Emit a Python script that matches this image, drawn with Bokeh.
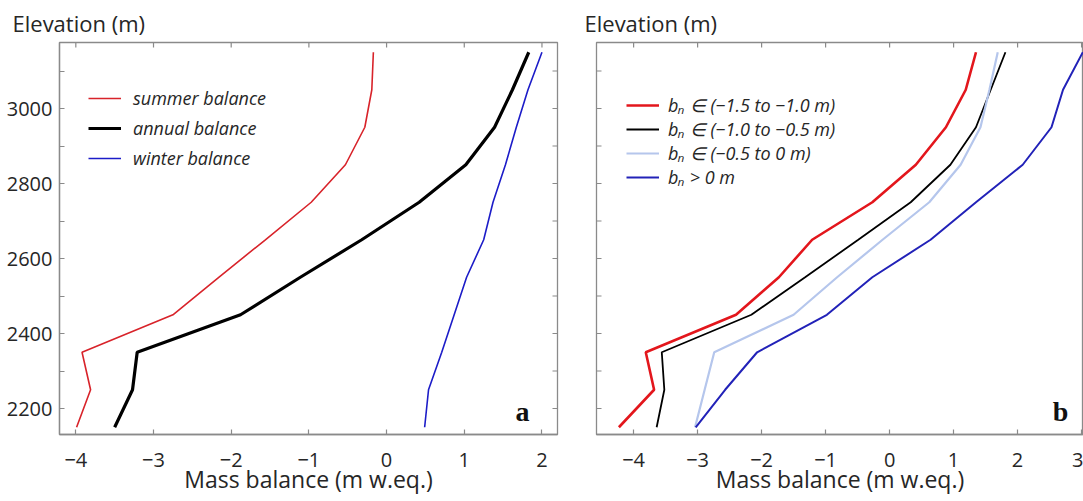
import math
from bokeh.plotting import figure
from bokeh.layouts import row
from bokeh.models import (FixedTicker, LinearAxis, Range1d, Legend, LegendItem,
                          Label, CustomJSTickFormatter)
from bokeh.embed import file_html
from bokeh.resources import INLINE

# ---------------- data ----------------
elevation = [2150, 2250, 2350, 2450, 2550, 2650, 2750, 2850, 2950, 3050, 3150]

# panel a
summer_balance = [-3.99, -3.81, -3.92, -2.75, -2.16, -1.56, -0.97, -0.53, -0.28, -0.19, -0.17]
annual_balance = [-3.50, -3.27, -3.21, -1.88, -1.11, -0.32, 0.42, 1.02, 1.39, 1.62, 1.83]
winter_balance = [0.49, 0.54, 0.71, 0.87, 1.03, 1.25, 1.37, 1.53, 1.67, 1.82, 2.00]

# panel b
bn_m15_m10 = [-4.23, -3.68, -3.81, -2.40, -1.73, -1.21, -0.27, 0.41, 0.88, 1.19, 1.35]
bn_m10_m05 = [-3.64, -3.52, -3.56, -2.16, -1.32, -0.49, 0.33, 0.95, 1.35, 1.58, 1.81]
bn_m05_0 = [-3.04, -2.89, -2.74, -1.50, -0.82, -0.11, 0.62, 1.11, 1.42, 1.56, 1.69]
bn_pos = [-3.03, -2.57, -2.07, -0.98, -0.27, 0.64, 1.35, 2.08, 2.53, 2.71, 3.02]

labels_a = ["summer balance", "annual balance", "winter balance"]
labels_b = ["b\u2099 \u2208 (\u22121.5 to \u22121.0 m)",
            "b\u2099 \u2208 (\u22121.0 to \u22120.5 m)",
            "b\u2099 \u2208 (\u22120.5 to 0 m)",
            "b\u2099 > 0 m"]
x_title = "Mass balance (m w.eq.)"
y_title = "Elevation (m)"

x_ticks_a = [-4, -3, -2, -1, 0, 1, 2]
x_ticks_b = [-4, -3, -2, -1, 0, 1, 2, 3]
y_major = [2200, 2400, 2600, 2800, 3000]
y_minor = [2300, 2500, 2700, 2900, 3100]

# ---------------- style ----------------
GRAY = "#8a8a8a"
TXT = "#262626"
FONT = "Open Sans"
Y0, Y1 = 2130.7, 3176
minus_fmt = CustomJSTickFormatter(code="return tick < 0 ? '\\u2212' + Math.abs(tick) : String(tick);")


def style_axis(ax):
    ax.axis_line_color = GRAY
    ax.axis_line_width = 1.3
    ax.major_tick_in = 5
    ax.major_tick_out = 0
    ax.minor_tick_in = 5
    ax.minor_tick_out = 0
    ax.major_tick_line_color = GRAY
    ax.minor_tick_line_color = GRAY
    ax.major_tick_line_width = 1.2
    ax.minor_tick_line_width = 1.2
    ax.major_label_text_font = FONT
    ax.major_label_text_color = TXT
    ax.major_label_text_font_size = "20px"


def ticks(p, xs, ys, angle):
    p.ray(x=xs, y=ys, length=5, length_units="screen", angle=angle,
          line_color=GRAY, line_width=1.2)


def make_panel(xr, x_ticks, frame_width, min_left, min_right, title_offset):
    p = figure(frame_width=frame_width, frame_height=392,
               x_range=Range1d(*xr), y_range=Range1d(Y0, Y1),
               x_axis_type=None, y_axis_type=None,
               output_backend="svg", toolbar_location=None,
               min_border_left=min_left, min_border_right=min_right,
               min_border_top=42, min_border_bottom=67,
               title=y_title)
    p.outline_line_color = GRAY
    p.outline_line_width = 1.3
    p.background_fill_color = "white"
    p.border_fill_color = "white"
    p.title.align = "left"
    p.title.offset = title_offset
    p.title.text_font = FONT
    p.title.text_font_style = "normal"
    p.title.text_font_size = "22px"
    p.title.text_color = TXT
    p.title.standoff = 9

    bottom = LinearAxis(ticker=FixedTicker(ticks=x_ticks, minor_ticks=[]),
                        formatter=minus_fmt)
    style_axis(bottom)
    bottom.major_label_standoff = 18
    bottom.axis_label = x_title
    bottom.axis_label_text_font = FONT
    bottom.axis_label_text_font_style = "normal"
    bottom.axis_label_text_font_size = "23px"
    bottom.axis_label_text_color = TXT
    bottom.axis_label_standoff = -7
    p.add_layout(bottom, "below")

    # top ticks (inward, no labels)
    ticks(p, x_ticks, [Y1] * len(x_ticks), -math.pi / 2)
    return p


yt_all = y_major + y_minor

# ---------------- panel a ----------------
xa = (-4.21, 2.2)
p1 = make_panel(xa, x_ticks_a, 498, 59, 20, -47)
left = LinearAxis(ticker=FixedTicker(ticks=y_major, minor_ticks=y_minor))
style_axis(left)
left.major_label_standoff = 7
p1.add_layout(left, "left")
ticks(p1, [xa[1]] * len(yt_all), yt_all, math.pi)

r_s = p1.line(summer_balance, elevation, line_color="#d8232a", line_width=1.6)
r_a = p1.line(annual_balance, elevation, line_color="#000000", line_width=3.2)
r_w = p1.line(winter_balance, elevation, line_color="#1c1cc8", line_width=1.6)

leg_a = Legend(items=[LegendItem(label=labels_a[0], renderers=[r_s]),
                      LegendItem(label=labels_a[1], renderers=[r_a]),
                      LegendItem(label=labels_a[2], renderers=[r_w])],
               location=(29, 264), padding=0, margin=0, spacing=6,
               glyph_width=33, glyph_height=20, label_height=20, label_standoff=12,
               label_text_font=FONT, label_text_font_style="italic",
               label_text_font_size="18px", label_text_color=TXT,
               background_fill_alpha=0, border_line_color=None)
p1.add_layout(leg_a, "center")
p1.add_layout(Label(x=1.75, y=2192, text="a", text_font="Liberation Serif",
                    text_font_style="bold", text_font_size="28px",
                    text_color="#111111", text_align="center",
                    text_baseline="alphabetic"))

# ---------------- panel b ----------------
xb = (-4.58, 3.03)
p2 = make_panel(xb, x_ticks_b, 487, 19, 0, -12)
ticks(p2, [xb[0]] * len(yt_all), yt_all, 0)

r1 = p2.line(bn_m15_m10, elevation, line_color="#e3161c", line_width=2.6)
r2 = p2.line(bn_m10_m05, elevation, line_color="#000000", line_width=1.8)
r3 = p2.line(bn_m05_0, elevation, line_color="#b5c6ec", line_width=2.2)
r4 = p2.line(bn_pos, elevation, line_color="#2222b8", line_width=2.0)

leg_b = Legend(items=[LegendItem(label=labels_b[i], renderers=[r])
                      for i, r in enumerate([r1, r2, r3, r4])],
               location=(30, 245), padding=0, margin=0, spacing=0,
               glyph_width=33, glyph_height=20, label_height=20, label_standoff=9,
               label_text_font=FONT, label_text_font_style="italic",
               label_text_font_size="18px", label_text_color=TXT,
               background_fill_alpha=0, border_line_color=None)
p2.add_layout(leg_b, "center")
p2.add_layout(Label(x=2.67, y=2192, text="b", text_font="Liberation Serif",
                    text_font_style="bold", text_font_size="28px",
                    text_color="#111111", text_align="center",
                    text_baseline="alphabetic"))

layout = row(p1, p2)
open("out.html", "w").write(file_html(layout, INLINE))
